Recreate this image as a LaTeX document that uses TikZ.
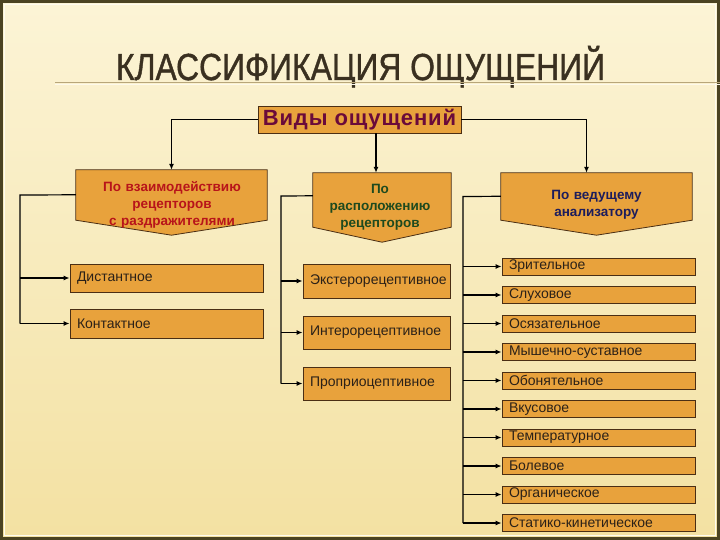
\documentclass[tikz,border=0pt]{standalone}
\usepackage{fontspec}
\setmainfont{Liberation Sans}
\usetikzlibrary{arrows.meta,calc}
\definecolor{bgtop}{HTML}{FCF4D6}
\definecolor{bgbot}{HTML}{F3E1A2}
\definecolor{frame}{HTML}{4B4322}
\definecolor{tline}{HTML}{B8A67A}
\definecolor{titlec}{HTML}{3A3020}
\definecolor{boxfill}{HTML}{E8A23C}
\definecolor{boxline}{HTML}{4A2E14}
\definecolor{boxtext}{HTML}{2B2118}
\definecolor{vidyc}{HTML}{6A0A3A}
\definecolor{redc}{HTML}{B8141A}
\definecolor{greenc}{HTML}{1E4A1E}
\definecolor{bluec}{HTML}{1C1C5C}
\tikzset{
  conn/.style={line width=1.2pt, black},
  arr/.style={line width=1.2pt, black, -{Latex[length=6pt,width=5pt]}},
  cbox/.style={draw=boxline, fill=boxfill, line width=0.8pt, rectangle, inner xsep=7pt, inner ysep=0pt, align=left, text=boxtext, font=\fontsize{14}{15}\selectfont},
  lbox/.style={cbox, text width=179pt},
  mbox/.style={cbox, text width=133pt},
  rbox/.style={cbox, text width=179pt, minimum height=17pt},
  pent/.style={rectangle, inner sep=0pt, align=center, font=\bfseries\fontsize{13.5}{17}\selectfont},
  pentshape/.style={draw=boxline, fill=boxfill, line width=0.8pt},
}
\begin{document}
\begin{tikzpicture}[x=1pt,y=-1pt]
\useasboundingbox (0,0) rectangle (720,540);
\shade[top color=bgtop, bottom color=bgbot] (0,0) rectangle (720,540);
\draw[frame, line width=3pt] (1.5,1.5) rectangle (718.5,538.5);
\draw[white!60!bgtop, line width=0.8pt] (4.5,4.5) rectangle (715.5,535.5);
% title
\node[anchor=base, text=titlec, inner sep=0pt, font=\fontsize{37.7}{40}\selectfont\addfontfeature{FakeBold=1.2}] (title) at (360.5,80)
  {\scalebox{0.845}[1]{КЛАССИФИКАЦИЯ ОЩУЩЕНИЙ}};
\draw[tline, line width=1pt] (55,83) -- (720,83);
\draw[white!50!bgtop, line width=1pt] (55,85) -- (720,85);
% top box
\node[draw=boxline, fill=boxfill, line width=0.8pt, minimum width=203pt, minimum height=27pt, inner sep=0pt, text=vidyc, font=\bfseries\fontsize{22}{24}\selectfont\addfontfeature{LetterSpace=4}] (vidy) at (359.5,119.5) {Виды ощущений};
% pentagons
\node[pent, minimum width=191pt, minimum height=65pt, text width=191pt, text=redc] (p1) at (171.5,202.5) {};
\node[pent, minimum width=138pt, minimum height=69pt, text width=138pt, text=greenc] (p2) at (382,207.5) {};
\node[pent, minimum width=191pt, minimum height=62pt, text width=191pt, text=bluec] (p3) at (596.5,204) {};
\foreach \p in {p1,p2,p3}
  \fill[pentshape] (\p.north west) -- (\p.north east) -- ([yshift=15pt]\p.south east) -- (\p.south) -- ([yshift=15pt]\p.south west) -- cycle;
\node[pent, text width=191pt, text=redc] at (172,205) {По взаимодействию\\рецепторов\\с раздражителями};
\node[pent, text width=138pt, text=greenc] at (380,207) {По\\расположению\\рецепторов};
\node[pent, text width=191pt, text=bluec] at (596.5,205) {По ведущему\\анализатору};
% left boxes
\node[lbox, minimum height=28pt] (dist) at (166.5,278) {Дистантное};
\node[lbox, minimum height=29pt] (kont) at (166.5,323.5) {Контактное};
% middle boxes
\node[mbox, minimum height=34pt] (ekst) at (376.5,281) {Экстерорецептивное};
\node[mbox, minimum height=33pt] (inter) at (376.5,332.5) {Интерорецептивное};
\node[mbox, minimum height=33pt] (prop) at (376.5,383.5) {Проприоцептивное};
% right boxes
\foreach \t [count=\i] in {Зрительное,Слуховое,Осязательное,Мышечно-суставное,Обонятельное,Вкусовое,Температурное,Болевое,Органическое,Статико-кинетическое}
  \node[rbox] (r\i) at (598.5,{266.5+28.5*(\i-1)}) {\t};
% connectors from top box
\draw[arr] (vidy.west) -| (p1.north);
\draw[arr] ([xshift=16.5pt]vidy.south) -- ([xshift=16.5pt]vidy.south |- p2.north);
\draw[arr] (vidy.east) -| ([xshift=-10pt]p3.north);
% left branch
\coordinate (vl) at (20,195);
\draw[conn] ([yshift=-25pt]p1.north west) -- (vl) -- (vl |- kont.west);
\draw[arr] (vl |- dist.west) -- (dist.west);
\draw[arr] (vl |- kont.west) -- (kont.west);
% middle branch
\coordinate (vm) at (281,196);
\draw[conn] ([yshift=-23pt]p2.north west) -- (vm) -- (vm |- prop.west);
\foreach \n in {ekst,inter,prop}
  \draw[arr] (vm |- \n.west) -- (\n.west);
% right branch
\coordinate (vr) at (463,196.5);
\draw[conn] ([yshift=-23.5pt]p3.north west) -- (vr) -- (vr |- r10.west);
\foreach \i in {1,...,10}
  \draw[arr] (vr |- r\i.west) -- (r\i.west);
\end{tikzpicture}
\end{document}
